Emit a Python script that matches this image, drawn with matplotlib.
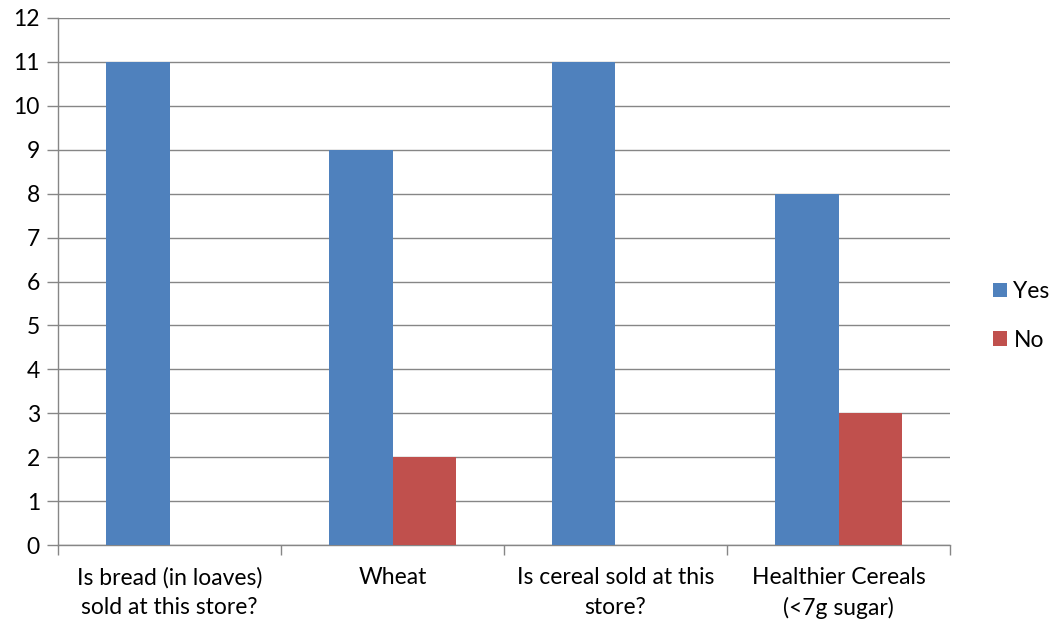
import matplotlib
matplotlib.use("Agg")
import matplotlib.pyplot as plt
import numpy as np

categories = ["Is bread (in loaves)\nsold at this store?", "Wheat",
              "Is cereal sold at this\nstore?", "Healthier Cereals\n(<7g sugar)"]
yes_values = [11, 9, 11, 8]
no_values = [0, 2, 0, 3]
y_ticks = list(range(0, 13))

plt.rcParams['font.family'] = ['Lato', 'DejaVu Sans']

fig = plt.figure(figsize=(10.55, 6.29), dpi=100)
ax = fig.add_axes([58 / 1055, 1 - 545 / 629, (950 - 58) / 1055, (545 - 18) / 629])

grey = "#868686"
fs = 16.5
x = np.arange(len(categories))
w = 0.285
ax.bar(x - w / 2, yes_values, width=w, color="#4F81BD", label="Yes", zorder=3)
ax.bar(x + w / 2, no_values, width=w, color="#C0504D", label="No", zorder=3)

ax.set_xlim(-0.5, len(categories) - 0.5)
ax.set_ylim(0, 12)
ax.set_yticks(y_ticks)
ax.yaxis.grid(True, color=grey, linewidth=1, zorder=0)
ax.set_axisbelow(True)

ax.set_xticks(x)
ax.set_xticklabels(categories, fontsize=fs, linespacing=1.5)
ax.tick_params(axis="x", length=0, pad=16)
ax.set_xticks(np.arange(-0.5, len(categories)), minor=True)
ax.tick_params(axis="x", which="minor", length=7, color=grey, width=1)
ax.tick_params(axis="y", length=8, color=grey, width=1, labelsize=fs, pad=5)

for s in ["top", "right"]:
    ax.spines[s].set_visible(False)
for s in ["left", "bottom"]:
    ax.spines[s].set_color(grey)
    ax.spines[s].set_linewidth(1)

ax.legend(loc="center left", bbox_to_anchor=(1.048, 0.435), frameon=False,
          fontsize=fs, handlelength=0.6, handleheight=0.6, labelspacing=1.2,
          handletextpad=0.3, borderpad=0, borderaxespad=0)

fig.savefig("out.png", dpi=100, facecolor="white")
